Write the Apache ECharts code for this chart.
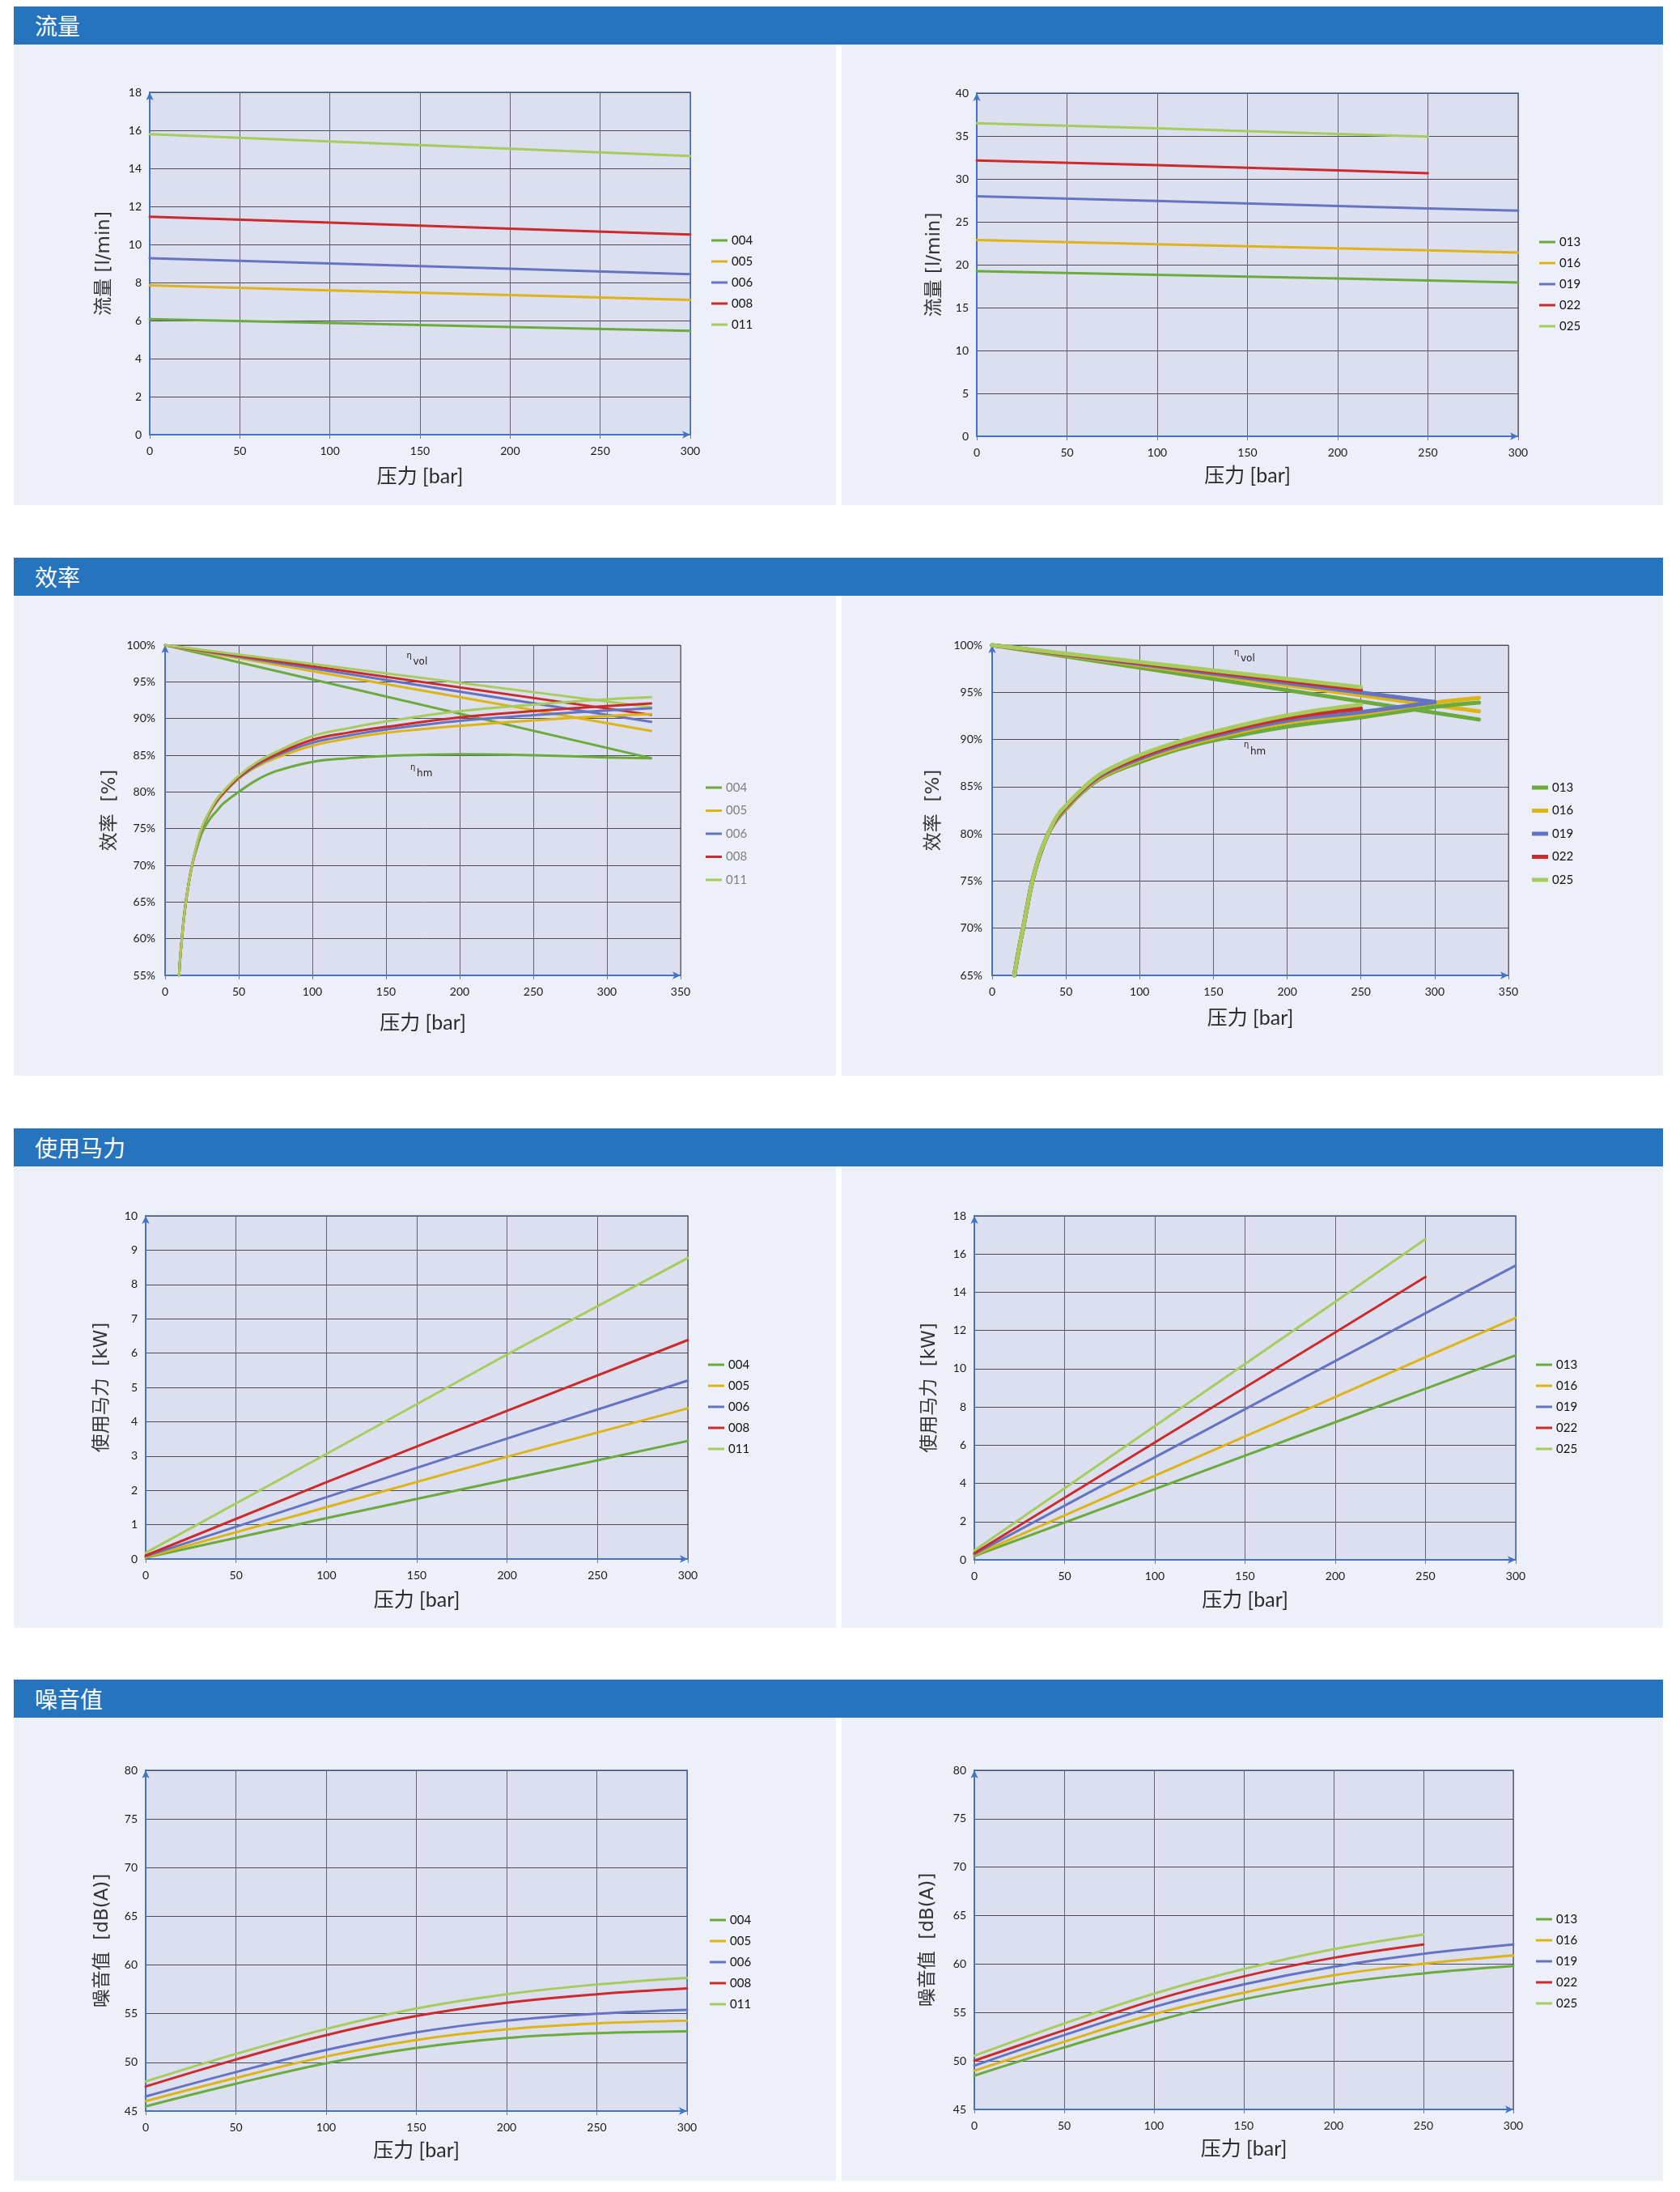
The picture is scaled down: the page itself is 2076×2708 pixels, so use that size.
<!DOCTYPE html>
<html><head><meta charset="utf-8">
<script src="https://cdn.jsdelivr.net/npm/echarts@6/dist/echarts.min.js"></script>
<style>
html,body{margin:0;padding:0;background:#fff;}
#wrap{position:relative;width:2076px;height:2708px;overflow:hidden;background:#fff;}
.hdr{position:absolute;left:17px;width:2038px;height:47px;background:#2774BE;color:#fff;font-family:"Noto Sans CJK SC",sans-serif;font-size:28px;line-height:47px;box-sizing:border-box;padding-left:26px;}
.pnl{position:absolute;background:#EDF0F9;}
#chart{position:absolute;left:0;top:0;width:2076px;height:2708px;}
</style></head>
<body><div id="wrap">
<div class="hdr" style="top:8px">流量</div>
<div class="pnl" style="left:17px;top:55px;width:1016px;height:569px"></div>
<div class="pnl" style="left:1040px;top:55px;width:1015px;height:569px"></div>
<div class="hdr" style="top:689px">效率</div>
<div class="pnl" style="left:17px;top:736px;width:1016px;height:593px"></div>
<div class="pnl" style="left:1040px;top:736px;width:1015px;height:593px"></div>
<div class="hdr" style="top:1394px">使用马力</div>
<div class="pnl" style="left:17px;top:1441px;width:1016px;height:570px"></div>
<div class="pnl" style="left:1040px;top:1441px;width:1015px;height:570px"></div>
<div class="hdr" style="top:2075px">噪音值</div>
<div class="pnl" style="left:17px;top:2122px;width:1016px;height:572px"></div>
<div class="pnl" style="left:1040px;top:2122px;width:1015px;height:572px"></div>
<div id="chart"></div>
</div>
<script>
// ---------- DATA ----------
const MODELS_L = ['004','005','006','008','011'];
const MODELS_R = ['013','016','019','022','025'];
const COLORS = ['#6AAB3C','#DCB416','#6474C3','#CC2B2B','#A6CD5C'];

// Flow [l/min]
const FLOW_L_PRESS = [0,100,200,300];
const FLOW_L = [
  [6.07,5.87,5.66,5.46],
  [7.85,7.59,7.34,7.08],
  [9.28,9.00,8.72,8.44],
  [11.46,11.15,10.83,10.52],
  [15.80,15.42,15.03,14.65]
];
const FLOW_R_PRESS = [0,100,200,250,300];
const FLOW_R = [
  [19.24,18.82,18.39,18.16,17.93],
  [22.88,22.38,21.92,21.68,21.41],
  [27.96,27.42,26.83,26.56,26.29],
  [32.14,31.60,30.98,30.67],
  [36.48,35.90,35.24,34.93]
];

// Efficiency [%]  (volumetric: straight lines; hydro-mechanical: curves)
const EFF_L_VOL = [
  [[0,100],[330,84.6]],
  [[0,100],[330,88.3]],
  [[0,100],[330,89.55]],
  [[0,100],[330,90.5]],
  [[0,100],[330,91.55]]
];
const EFF_L_HM = [
  [[9.5,55],[10.3,57.5],[11.4,60],[12.6,62.5],[14.1,65],[16,67.5],[18.3,70],[21.5,72.3],[25.2,74.5],[30,76.2],[35,77.4],[40,78.5],[50,80.0],[62,81.6],[75,82.8],[100,84.1],[125,84.6],[150,84.9],[200,85.15],[250,85.0],[300,84.7],[330,84.6]],
  [[9.5,55],[10.3,57.5],[11.4,60],[12.6,62.5],[14.1,65],[16,67.5],[18.3,70],[21.5,72.6],[25,75],[30,77.0],[35,78.6],[40,79.8],[50,81.8],[62,83.4],[75,84.6],[100,86.3],[125,87.3],[150,88.05],[200,89.0],[250,89.75],[300,90.35],[330,90.6]],
  [[9.5,55],[10.3,57.5],[11.4,60],[12.6,62.5],[14.1,65],[16,67.5],[18.3,70],[21.5,72.6],[25,75],[30,77.1],[35,78.7],[40,79.9],[50,81.9],[62,83.6],[75,84.9],[100,86.7],[125,87.7],[150,88.5],[200,89.7],[250,90.45],[300,91.1],[330,91.4]],
  [[9.5,55],[10.3,57.5],[11.4,60],[12.6,62.5],[14.1,65],[16,67.5],[18.3,70],[21.5,72.7],[25,75.1],[30,77.2],[35,78.8],[40,80.0],[50,82.0],[62,83.8],[75,85.1],[100,87.1],[125,88.1],[150,88.85],[200,90.15],[250,91.0],[300,91.7],[330,92.05]],
  [[9.5,55],[10.3,57.5],[11.4,60],[12.6,62.5],[14.1,65],[16,67.5],[18.3,70],[21.5,72.8],[25,75.2],[30,77.3],[35,79.0],[40,80.2],[50,82.2],[62,84.0],[75,85.4],[100,87.6],[125,88.7],[150,89.6],[200,91.0],[250,91.9],[300,92.6],[330,92.9]]
];
const EFF_R_VOL = [
  [[0,100],[330,92.12]],
  [[0,100],[330,92.98]],
  [[0,100],[300,93.97]],
  [[0,100],[250,95.28]],
  [[0,100],[250,95.54]]
];
const EFF_R_HM = [
  [[15,65],[17.8,67.5],[21,70],[24,72.5],[27.3,75],[32,77.6],[38,80],[44,81.5],[50,82.6],[62,84.5],[75,86.0],[100,87.6],[125,88.9],[150,89.9],[200,91.36],[250,92.35],[300,93.45],[330,93.9]],
  [[15,65],[17.8,67.5],[21,70],[24,72.5],[27.3,75],[32,77.6],[38,80],[44,81.6],[50,82.7],[62,84.6],[75,86.1],[100,87.8],[125,89.1],[150,90.16],[200,91.8],[250,92.7],[300,93.9],[330,94.4]],
  [[15,65],[17.8,67.5],[21,70],[24,72.5],[27.3,75],[32,77.6],[38,80],[44,81.7],[50,82.8],[62,84.7],[75,86.25],[100,87.95],[125,89.3],[150,90.35],[200,92.0],[250,92.9],[300,93.97]],
  [[15,65],[17.8,67.5],[21,70],[24,72.5],[27.3,75],[32,77.7],[38,80],[44,81.8],[50,82.9],[62,84.8],[75,86.4],[100,88.15],[125,89.5],[150,90.56],[200,92.27],[250,93.28]],
  [[15,65],[17.8,67.5],[21,70],[24,72.5],[27.3,75],[32,77.7],[38,80],[44,81.9],[50,83.0],[62,84.9],[75,86.5],[100,88.35],[125,89.7],[150,90.8],[200,92.56],[250,93.7]]
];
const EFF_NOTES_L = [['vol',164,99.1],['hm',166.5,83.9]];
const EFF_NOTES_R = [['vol',164,99.66],['hm',170.6,89.8]];

// Power [kW]
const POW_L_PRESS = [0,100,200,300];
const POW_L = [
  [0.04,1.19,2.31,3.44],
  [0.05,1.51,2.98,4.39],
  [0.08,1.80,3.51,5.20],
  [0.10,2.24,4.32,6.38],
  [0.18,3.06,5.96,8.77]
];
const POW_R_PRESS = [0,100,200,250,300];
const POW_R = [
  [0.20,3.70,7.20,8.95,10.70],
  [0.25,4.40,8.52,10.60,12.66],
  [0.30,5.36,10.40,12.90,15.40],
  [0.35,6.14,11.90,14.80],
  [0.49,7.00,13.50,16.78]
];

// Noise [dB(A)]
const NOISE_PRESS = [0,50,100,150,200,250,300];
const NOISE_L = [
  [45.48,47.8,49.91,51.48,52.5,53.0,53.19],
  [46.02,48.41,50.6,52.3,53.39,54.0,54.28],
  [46.5,49.0,51.28,53.09,54.28,55.0,55.4],
  [47.52,50.29,52.8,54.76,56.12,57.0,57.59],
  [48.04,50.87,53.43,55.54,57.0,58.0,58.68]
];
const NOISE_R = [
  [48.49,51.4,54.08,56.37,57.98,59.04,59.8],
  [49.0,51.99,54.83,57.05,58.84,60.03,60.89],
  [49.52,52.67,55.58,57.91,59.73,61.06,62.02],
  [50.03,53.18,56.27,58.73,60.65,62.02],
  [50.55,53.87,56.95,59.49,61.54,63.05]
];

// ---------- BUILD ----------
const zip = (P, V) => V.map((v, i) => [P[i], v]);
const TICK_FONT = 'Lato, "Noto Sans", sans-serif';
const NAME_FONT_X = 'Lato, "Noto Sans CJK SC", sans-serif';
const NAME_FONT_Y = '"DejaVu Sans", "Noto Sans CJK SC", sans-serif';

const grids = [], xAxes = [], yAxes = [], series = [], legends = [];

function addChart(c) {
  const gi = grids.length;
  grids.push({left:c.box[0], top:c.box[1], width:c.box[2], height:c.box[3], show:true,
    backgroundColor:'#DCDFF0', borderColor:c.border, borderWidth:c.borderW || 1.5});
  xAxes.push({type:'value', gridIndex:gi, min:0, max:c.xMax, interval:50,
    name:'压力 [bar]', nameLocation:'middle', nameGap:c.xGap,
    nameTextStyle:{fontFamily:NAME_FONT_X, fontSize:25, color:'#2b2b2b'},
    axisLine:{show:true, onZero:false, lineStyle:{color:'#4472C4', width:2}, symbol:['none','arrow'], symbolSize:[7,10]},
    axisTick:{show:true, length:5, lineStyle:{color:'#7a7a7a'}},
    axisLabel:{fontFamily:TICK_FONT, fontSize:14, color:'#1a1a1a', margin:13},
    splitLine:{show:true, lineStyle:{color:'#62636e', width:1}}});
  yAxes.push({type:'value', gridIndex:gi, min:c.yMin, max:c.yMax, interval:c.yInt,
    name:c.yName, nameLocation:'middle', nameGap:c.yGap, nameRotate:90,
    nameTextStyle:{fontFamily:NAME_FONT_Y, fontSize:23, color:'#333'},
    axisLine:{show:true, onZero:false, lineStyle:{color:'#4472C4', width:2}, symbol:['none','arrow'], symbolSize:[7,10]},
    axisTick:{show:false},
    axisLabel:{fontFamily:TICK_FONT, fontSize:14, color:'#1a1a1a', margin:c.yMargin || 10,
      formatter: c.pct ? '{value}%' : '{value}'},
    splitLine:{show:true, lineStyle:{color:'#4d4d55', width:1}}});
  c.lines.forEach((ln) => {
    series.push({type:'line', name:ln.name, xAxisIndex:gi, yAxisIndex:gi, data:ln.data,
      showSymbol:false, symbol:'none', smooth:ln.smooth ? 0.4 : false,
      lineStyle:{color:ln.color, width:c.lw, cap:'round', join:'round'},
      itemStyle:{color:ln.color}, emphasis:{disabled:true}, silent:true, animation:false, z:3});
  });
  legends.push({data:c.models, orient:'vertical', left:c.leg[0], top:c.leg[1], itemGap:c.leg[2],
    padding:0, icon:'rect', itemWidth:20, itemHeight:c.legH || 3, selectedMode:false,
    textStyle:{fontFamily:TICK_FONT, fontSize:15, lineHeight:16, color:c.legColor || '#111'}});
}

function simpleLines(models, P, V, smooth) {
  return models.map((m, i) => ({name:m, color:COLORS[i], data:zip(P, V[i]), smooth:smooth}));
}
function effLines(models, VOL, HM) {
  const out = [];
  models.forEach((m, i) => out.push({name:m, color:COLORS[i], data:VOL[i], smooth:false}));
  models.forEach((m, i) => out.push({name:m, color:COLORS[i], data:HM[i], smooth:true}));
  return out;
}

addChart({box:[185,114,668,423], xMax:300, yMin:0, yMax:18, yInt:2, yName:'流量 [l/min]', yGap:44, xGap:39,
  border:'#4472C4', lw:3, models:MODELS_L, lines:simpleLines(MODELS_L, FLOW_L_PRESS, FLOW_L, false), leg:[879,289,10]});
addChart({box:[1207,115,669,424], xMax:300, yMin:0, yMax:40, yInt:5, yName:'流量 [l/min]', yGap:40, xGap:36,
  border:'#4472C4', lw:3, models:MODELS_R, lines:simpleLines(MODELS_R, FLOW_R_PRESS, FLOW_R, false), leg:[1902,291,10]});
addChart({box:[204,797,637,408], xMax:350, yMin:55, yMax:100, yInt:5, pct:true, yName:'效率  [%]', yGap:56, xGap:46, yMargin:12,
  border:'#5a5a62', borderW:1, lw:3, models:MODELS_L, lines:effLines(MODELS_L, EFF_L_VOL, EFF_L_HM), leg:[872,965,12.5], legColor:'#7f7f7f'});
addChart({box:[1226,797,638,408], xMax:350, yMin:65, yMax:100, yInt:5, pct:true, yName:'效率  [%]', yGap:60, xGap:40, yMargin:12,
  border:'#5a5a62', borderW:1, lw:5, models:MODELS_R, lines:effLines(MODELS_R, EFF_R_VOL, EFF_R_HM), leg:[1893,965,12.5], legH:5});
addChart({box:[180,1502,670,424], xMax:300, yMin:0, yMax:10, yInt:1, yName:'使用马力  [kW]', yGap:42, xGap:38,
  border:'#4472C4', lw:3, models:MODELS_L, lines:simpleLines(MODELS_L, POW_L_PRESS, POW_L, false), leg:[875,1678,10]});
addChart({box:[1204,1502,669,425], xMax:300, yMin:0, yMax:18, yInt:2, yName:'使用马力  [kW]', yGap:43, xGap:37,
  border:'#4472C4', lw:3, models:MODELS_R, lines:simpleLines(MODELS_R, POW_R_PRESS, POW_R, false), leg:[1898,1678,10]});
addChart({box:[180,2187,669,421], xMax:300, yMin:45, yMax:80, yInt:5, yName:'噪音值  [dB(A)]', yGap:41, xGap:36,
  border:'#4472C4', lw:3, models:MODELS_L, lines:simpleLines(MODELS_L, NOISE_PRESS, NOISE_L, true), leg:[877,2364,10]});
addChart({box:[1204,2187,666,419], xMax:300, yMin:45, yMax:80, yInt:5, yName:'噪音值  [dB(A)]', yGap:45, xGap:36,
  border:'#4472C4', lw:3, models:MODELS_R, lines:simpleLines(MODELS_R, NOISE_PRESS, NOISE_R, true), leg:[1898,2363,10]});

const chart = echarts.init(document.getElementById('chart'), null, {renderer:'canvas'});
chart.setOption({animation:false, backgroundColor:'transparent', grid:grids, xAxis:xAxes, yAxis:yAxes, series:series, legend:legends});

// eta annotations
const graphics = [];
function addNotes(gridIndex, notes) {
  notes.forEach(([sub, x, y]) => {
    const p = chart.convertToPixel({gridIndex:gridIndex}, [x, y]);
    graphics.push({type:'text', left:p[0], top:p[1], z:10,
      style:{text:'η', fontSize:10, fontFamily:'"DejaVu Sans", sans-serif', fill:'#222'}});
    graphics.push({type:'text', left:p[0] + 8, top:p[1] + 7, z:10,
      style:{text:sub, fontSize:12, fontFamily:'"DejaVu Sans", sans-serif', fill:'#222'}});
  });
}
addNotes(2, EFF_NOTES_L);
addNotes(3, EFF_NOTES_R);
chart.setOption({graphic:graphics});
</script>
</body></html>
